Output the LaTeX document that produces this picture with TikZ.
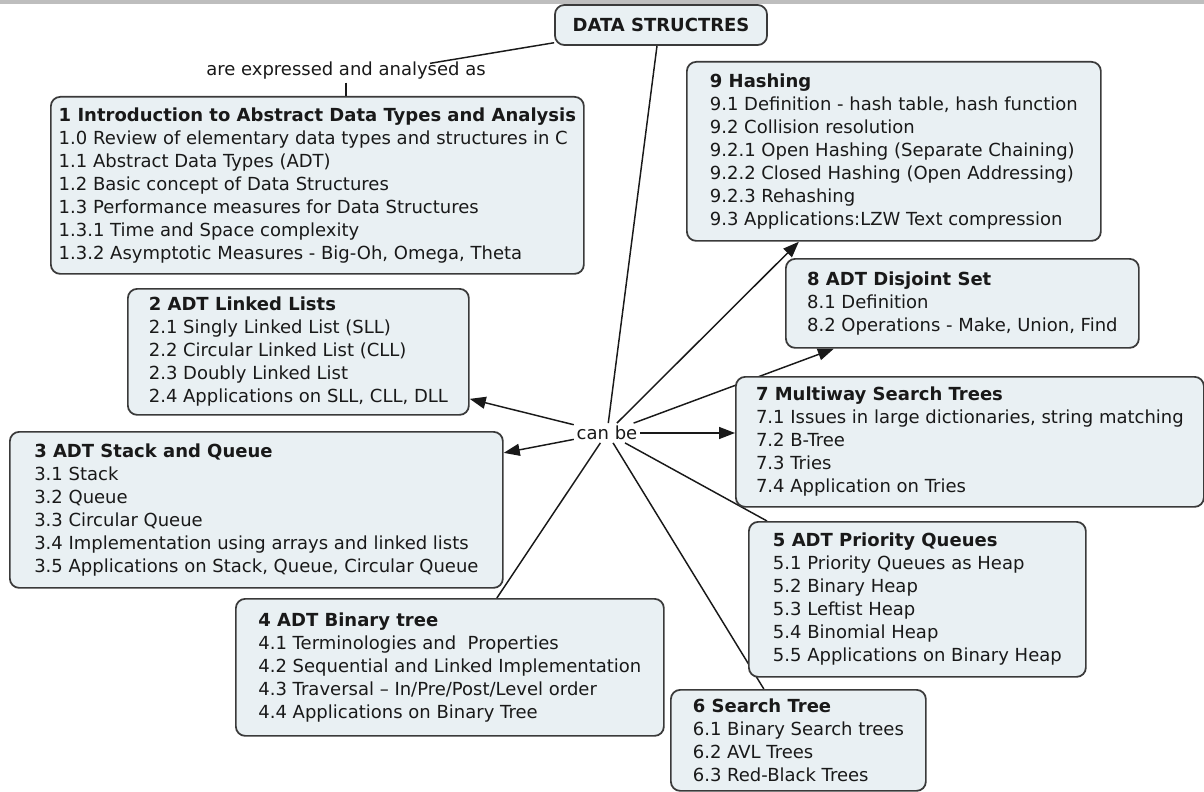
\documentclass[tikz,border=0pt]{standalone}
\usepackage{fontspec}
\setmainfont{DejaVu Sans}
\usetikzlibrary{arrows.meta,calc}
\definecolor{boxfill}{RGB}{233,240,243}
\definecolor{boxline}{RGB}{58,58,58}
\definecolor{topbar}{RGB}{190,190,190}
\definecolor{ink}{RGB}{25,25,25}
\pgfdeclarelayer{bg}
\pgfsetlayers{bg,main}
\begin{document}
\begin{tikzpicture}[x=0.75pt,y=-0.75pt,
  topic/.style={draw=boxline, line width=1.3pt, fill=boxfill, rounded corners=7pt,
    align=left, inner xsep=5pt, inner ysep=4pt, anchor=north west, text=ink,
    font=\fontsize{13.5}{17.25}\selectfont},
  link/.style={draw=ink, line width=1.1pt},
  arr/.style={link, -{Triangle[length=12pt,width=9pt]}},
  lab/.style={text=ink, inner sep=2pt, font=\fontsize{13.5}{17.25}\selectfont}]
\useasboundingbox (0,0) rectangle (1204,792);
\fill[topbar] (0,0) rectangle (1204,4);

\node[topic, align=center, anchor=center, minimum width=159pt, minimum height=30pt] (ds) at (661,25) {\textbf{DATA STRUCTRES}};
\node[lab] (lbl) at (346,71) {are expressed and analysed as};
\node[lab] (can) at (607,433) {can be};

\node[topic, minimum width=399.75pt, minimum height=132.75pt] (b1) at (50,96) {\textbf{1 Introduction to Abstract Data Types and Analysis}\\
1.0 Review of elementary data types and structures in C\\
1.1 Abstract Data Types (ADT)\\
1.2 Basic concept of Data Structures\\
1.3 Performance measures for Data Structures\\
1.3.1 Time and Space complexity\\
1.3.2 Asymptotic Measures - Big-Oh, Omega, Theta};

\node[topic, minimum width=255.75pt, minimum height=94.5pt] (b2) at (127,288) {\textbf{2 ADT Linked Lists}\\
2.1 Singly Linked List (SLL)\\
2.2 Circular Linked List (CLL)\\
2.3 Doubly Linked List\\
2.4 Applications on SLL, CLL, DLL};

\node[topic, minimum width=369.75pt, minimum height=117pt] (b3) at (9,431) {\textbf{3 ADT Stack and Queue}\\
3.1 Stack\\
3.2 Queue\\
3.3 Circular Queue\\
3.4 Implementation using arrays and linked lists\\
3.5 Applications on Stack, Queue, Circular Queue};

\node[topic, minimum width=321pt, minimum height=102.75pt] (b4) at (235,598) {\textbf{4 ADT Binary tree}\\
4.1 Terminologies and~ Properties\\
4.2 Sequential and Linked Implementation\\
4.3 Traversal – In/Pre/Post/Level order\\
4.4 Applications on Binary Tree};

\node[topic, minimum width=252.75pt, minimum height=116.25pt] (b5) at (748,521) {\textbf{5 ADT Priority Queues}\\
5.1 Priority Queues as Heap\\
5.2 Binary Heap\\
5.3 Leftist Heap\\
5.4 Binomial Heap\\
5.5 Applications on Binary Heap};

\node[topic, minimum width=191.25pt, minimum height=75.75pt] (b6) at (670,689) {\textbf{6 Search Tree}\\
6.1 Binary Search trees\\
6.2 AVL Trees\\
6.3 Red-Black Trees};

\node[topic, minimum width=351pt, minimum height=97.5pt] (b7) at (735,376) {\textbf{7 Multiway Search Trees}\\
7.1 Issues in large dictionaries, string matching\\
7.2 B-Tree\\
7.3 Tries\\
7.4 Application on Tries};

\node[topic, minimum width=264.75pt, minimum height=66.75pt] (b8) at (785,258) {\textbf{8 ADT Disjoint Set}\\
8.1 Definition\\
8.2 Operations - Make, Union, Find};

\node[topic, minimum width=310.5pt, minimum height=134.25pt] (b9) at (686,61) {\textbf{9 Hashing}\\
9.1 Definition - hash table, hash function\\
9.2 Collision resolution\\
9.2.1 Open Hashing (Separate Chaining)\\
9.2.2 Closed Hashing (Open Addressing)\\
9.2.3 Rehashing\\
9.3 Applications:LZW Text compression};

\begin{pgfonlayer}{bg}
\draw[link] (ds) -- ([xshift=63pt,yshift=-3pt]lbl.north);
\draw[link] (lbl.south) -- (lbl.south |- b1.north);
\draw[link] ([xshift=-3pt]ds.south) -- (can);
\draw[arr] (can) -- ([xshift=-71.25pt]b9.south);
\draw[arr] (can) -- ([xshift=-96.4pt]b8.south);
\draw[arr] (can) -- (can -| b7.west);
\draw[arr] (can) -- ([yshift=-35.25pt]b2.east);
\draw[arr] (can) -- ([yshift=42.75pt]b3.east);
\draw[link] (can) -- ([xshift=35.25pt]b4.north);
\draw[link] (can) -- ([xshift=14.25pt]b5.north west);
\draw[link] (can) -- ([xshift=-25.9pt]b6.north);
\end{pgfonlayer}
\end{tikzpicture}
\end{document}
